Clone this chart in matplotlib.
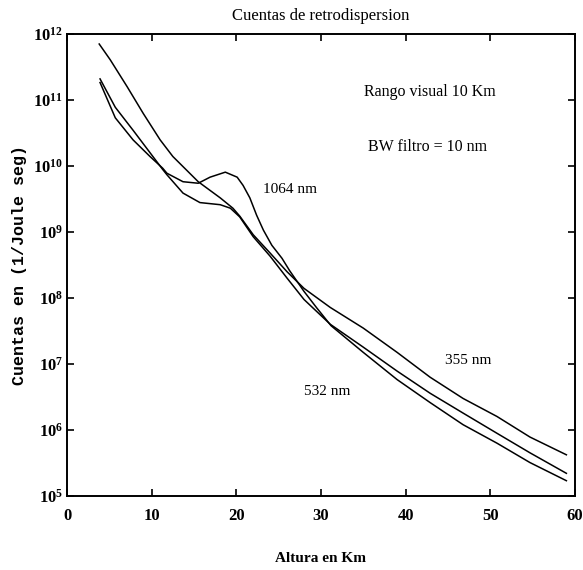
import matplotlib
matplotlib.use("Agg")
import matplotlib.pyplot as plt
from matplotlib.ticker import FixedLocator, FuncFormatter
import numpy as np

# valores (altura en km, cuentas en 1/Joule seg)
alt_355 = [3.8, 5.1, 7.1, 9.0, 11.0, 12.5, 15.5, 18.1, 19.6, 20.4, 22.0, 24.0,
           26.0, 28.0, 31.1, 35.0, 39.0, 42.9, 46.8, 50.8, 54.7, 59.0]
cnt_355 = [7.1e11, 4.1e11, 1.6e11, 6.3e10, 2.5e10, 1.4e10, 5.8e9, 3.3e9, 2.3e9,
           1.75e9, 9.1e8, 4.8e8, 2.5e8, 1.4e8, 7.2e7, 3.5e7, 1.5e7, 6.3e6,
           3.0e6, 1.6e6, 7.8e5, 4.2e5]

alt_532 = [3.9, 5.7, 7.8, 9.8, 11.3, 11.8, 13.7, 15.7, 18.1, 19.3, 20.4, 22.0,
           24.0, 26.0, 28.0, 31.1, 35.0, 39.0, 42.9, 46.8, 50.8, 54.7, 59.0]
cnt_532 = [2.1e11, 7.8e10, 3.5e10, 1.6e10, 8.9e9, 7.4e9, 3.9e9, 2.8e9, 2.6e9,
           2.3e9, 1.7e9, 8.5e8, 4.3e8, 2.0e8, 9.5e7, 4.0e7, 1.8e7, 7.8e6,
           3.6e6, 1.8e6, 8.9e5, 4.5e5, 2.2e5]

alt_1064 = [3.9, 5.7, 7.8, 9.8, 11.3, 11.8, 13.7, 15.5, 16.9, 18.7, 20.1, 20.8,
            21.6, 22.4, 23.2, 24.2, 25.4, 26.3, 28.0, 29.5, 31.2, 35.0, 39.0,
            42.9, 46.8, 50.8, 54.7, 59.0]
cnt_1064 = [1.85e11, 5.4e10, 2.5e10, 1.4e10, 9.3e9, 7.8e9, 5.8e9, 5.5e9, 6.8e9,
            8.1e9, 6.8e9, 5.1e9, 3.3e9, 1.8e9, 1.07e9, 6.3e8, 4.0e8, 2.6e8,
            1.26e8, 7.1e7, 3.8e7, 1.5e7, 5.8e6, 2.6e6, 1.2e6, 6.3e5, 3.2e5,
            1.7e5]

xticks = [0, 10, 20, 30, 40, 50, 60]
yexps = [5, 6, 7, 8, 9, 10, 11, 12]

plt.rcParams['mathtext.fontset'] = 'custom'
plt.rcParams['mathtext.rm'] = 'Liberation Serif'
plt.rcParams['mathtext.bf'] = 'Liberation Serif:bold'
plt.rcParams['font.family'] = 'Liberation Serif'

fig = plt.figure(figsize=(5.83, 5.70), dpi=100)
ax = fig.add_axes([0.115, 0.13, 0.871, 0.81])

for xs, ys in [(alt_355, cnt_355), (alt_532, cnt_532), (alt_1064, cnt_1064)]:
    ax.plot(xs, ys, color='black', lw=1.1)

ax.set_yscale('log')
ax.set_xlim(0, 60)
ax.set_ylim(1e5, 1e12)

ax.xaxis.set_major_locator(FixedLocator(xticks))
ax.yaxis.set_major_locator(FixedLocator([10.0**e for e in yexps]))
ax.yaxis.set_minor_locator(FixedLocator([]))
ax.yaxis.set_major_formatter(FuncFormatter(
    lambda v, p: r'$\mathbf{10^{%d}}$' % round(np.log10(v))))
ax.tick_params(direction='in', length=5, width=1.2, top=True, right=True,
               labelsize=12)
ax.tick_params(axis='x', pad=9)
ax.tick_params(axis='y', pad=3)
for lab in ax.get_xticklabels():
    lab.set_fontweight('bold')
for sp in ax.spines.values():
    sp.set_linewidth(1.4)

ax.set_title('Cuentas de retrodispersion', fontsize=12, pad=10)
ax.set_xlabel('Altura en Km', fontsize=11, fontweight='bold', labelpad=20)
ax.set_ylabel('Cuentas en (1/Joule seg)', family='Liberation Mono',
              fontweight='bold', fontsize=12, labelpad=4)

ax.text(42.9, 10**11.12, 'Rango visual 10 Km', fontsize=11.5, ha='center', va='center')
ax.text(42.6, 10**10.29, 'BW filtro = 10 nm', fontsize=11.5, ha='center', va='center')
ax.text(26.3, 10**9.64, '1064 nm', fontsize=11, ha='center', va='center')
ax.text(47.4, 10**7.06, '355 nm', fontsize=11, ha='center', va='center')
ax.text(30.7, 10**6.58, '532 nm', fontsize=11, ha='center', va='center')

fig.savefig('out.png', dpi=100)
